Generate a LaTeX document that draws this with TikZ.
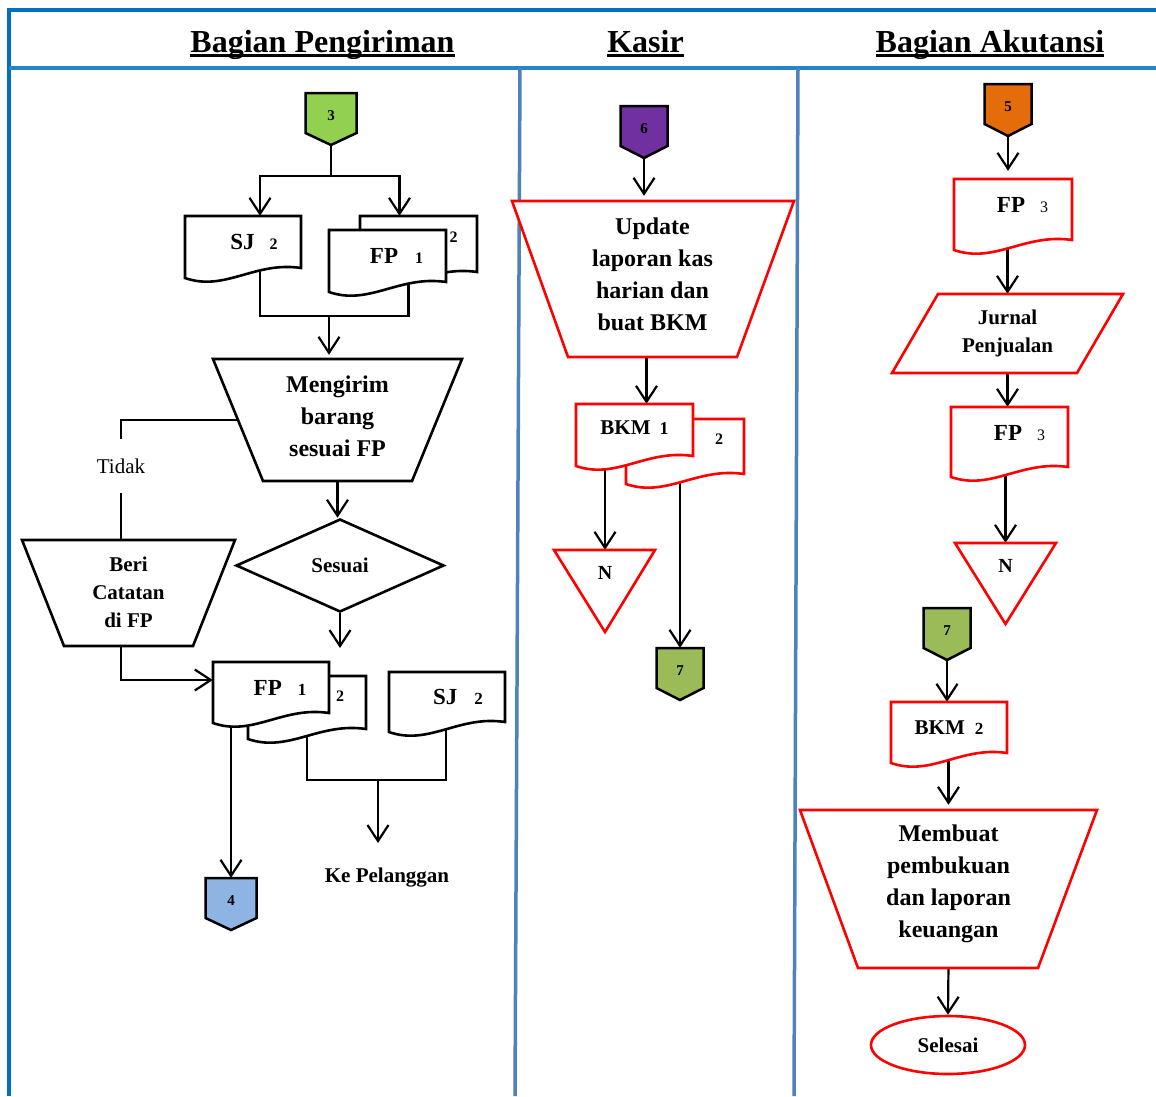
\documentclass[tikz,border=0pt]{standalone}
\usepackage{fontspec}
\setmainfont{Liberation Serif}
\usetikzlibrary{positioning, shapes.geometric, arrows.meta, backgrounds}

\definecolor{bingkai}{RGB}{0,112,192}
\definecolor{lajur}{RGB}{79,129,189}
\definecolor{hijau}{RGB}{146,208,80}
\definecolor{ungu}{RGB}{112,48,160}
\definecolor{zaitun}{RGB}{155,187,89}
\definecolor{oranye}{RGB}{228,108,10}
\definecolor{birumuda}{RGB}{141,180,226}

\newcommand{\fs}[2]{\fontsize{#1}{#2}\selectfont}
\newcommand{\nomor}[1]{{\fs{16}{16}#1}}

% dokumen: [gaya]{nama}{kiri}{atas}{lebar}{tinggi kiri}{opsi label}{teks}
\newcommand{\dokumen}[8][hitam]{%
  \draw[#1] (#3,#4) -- ({#3+#5},#4) -- ({#3+#5},{#4+#6-10})
    .. controls ({#3+0.6*#5},{#4+#6-17}) and ({#3+0.345*#5},{#4+#6+14}) .. (#3,{#4+#6}) -- cycle;
  \node[minimum width=#5, minimum height=#6-10, inner sep=0pt,
        label={[dokteks, #7]center:#8}] (#2) at ({#3+#5/2},{#4+(#6-10)/2}) {};
}

% penghubung antar halaman: {nama}{tengah x}{atas}{lebar}{warna}{nomor}
\newcommand{\penghubung}[6]{%
  \draw[line width=2.5pt, fill=#5] ({#2-#4/2},#3) -- ({#2+#4/2},#3) -- ({#2+#4/2},{#3+40})
    -- (#2,{#3+52}) -- ({#2-#4/2},{#3+40}) -- cycle;
  \node[minimum width=#4, minimum height=52, inner sep=0pt, font=\bfseries\fs{15}{15}] (#1) at (#2,{#3+26}) {\raisebox{6pt}{#6}};
}

\begin{document}
\begin{tikzpicture}[x=1pt, y=-1pt,
  garis/.style={line width=2.2pt},
  panah/.style={line width=2.2pt, -{Straight Barb[length=16pt, width=21pt]}},
  hitam/.style={draw=black, line width=2.6pt, fill=white},
  merah/.style={draw=red, line width=2.6pt, fill=white},
  proses/.style={inner sep=0pt, align=center, font=\bfseries\fs{24}{32}},
  proseskecil/.style={inner sep=0pt, align=center, font=\bfseries\fs{21}{28}},
  dokteks/.style={inner sep=0pt, font=\bfseries\fs{23}{23}},
  judul/.style={inner sep=0pt, anchor=base, font=\bfseries\fs{32}{38}}]

\useasboundingbox (0,0) rectangle (1156,1096);

% judul lajur, bergaris bawah
\node[judul] (jkirim) at (322.5,52) {Bagian Pengiriman};
\node[judul] (jkasir) at (645.5,52) {Kasir};
\node[judul] (jakun) at (990,52) {Bagian Akutansi};
\foreach \j in {jkirim, jkasir, jakun}
  \draw[line width=3pt] ([yshift=-3.5]\j.base west) -- ([yshift=-3.5]\j.base east);

% ---- Bagian Pengiriman
\penghubung{c3}{331}{93}{51}{hijau}{3}
\dokumen{sj1}{185}{216}{116}{62}{xshift=11pt}{SJ\hspace{15pt}\nomor{2}}
\dokumen{fp1b}{360}{216}{117}{66}{xshift=35pt, yshift=7pt}{\nomor{2}}
\dokumen{fp1}{329}{230}{117}{62}{xshift=9pt}{FP\hspace{17pt}\nomor{1}}

\draw[hitam] (213,359) -- (462,359) -- (412,481) -- (263,481) -- cycle;
\node[proses, minimum width=199, minimum height=122] (kirim) at (337.5,416) {Mengirim\\barang\\sesuai FP};

\node[diamond, hitam, inner sep=0pt, minimum width=208, minimum height=93, font=\bfseries\fs{21}{21}] (sesuai) at (340,565.5) {Sesuai};

\node[inner sep=0pt, minimum height=54, font=\fs{21}{21}] (tidak) at (121,466) {Tidak};

\draw[hitam] (22,540) -- (235,540) -- (193,646) -- (64,646) -- cycle;
\node[proseskecil, minimum width=171, minimum height=106] (beri) at (128.5,592) {Beri\\Catatan\\di FP};

\dokumen{fp2b}{248}{676}{118}{63}{xshift=33pt, yshift=6pt}{\nomor{2}}
\dokumen{fp2}{213}{662}{116}{61}{xshift=9pt}{FP\hspace{16pt}{\fs{17}{17}1}}
\dokumen{sj2}{389}{672}{116}{60}{xshift=11pt}{SJ\hspace{17pt}{\fs{17}{17}2}}

\node[inner sep=0pt, anchor=base, font=\bfseries\fs{21}{21}] (pelanggan) at (387,882) {Ke Pelanggan};
\penghubung{c4}{231}{878}{51}{birumuda}{4}

% ---- Kasir
\penghubung{c6}{644}{106}{47}{ungu}{6}
\draw[merah] (512,201) -- (794,201) -- (737,357) -- (568,357) -- cycle;
\node[proses, minimum width=225, minimum height=156] (update) at (652.5,274) {Update\\laporan kas\\harian dan\\buat BKM};
\dokumen[merah]{bkmb}{626}{419}{118}{65}{xshift=34pt, yshift=7pt}{\nomor{2}}
\dokumen[merah]{bkm}{576}{404}{117}{62}{yshift=2pt}{\fs{21}{21}BKM\hspace{9pt}{\fs{18}{18}1}}
\draw[merah] (554,550) -- (655,550) -- (605,632) -- cycle;
\node[inner sep=0pt, minimum height=46, font=\bfseries\fs{20}{20}] (n1) at (605,573) {N};
\penghubung{c7a}{680}{648}{47}{zaitun}{7}

% ---- Bagian Akutansi
\penghubung{c5}{1008}{84}{47}{oranye}{5}
\dokumen[merah]{fp3}{954}{179}{118}{71}{xshift=9.5pt, yshift=4pt}{FP\hspace{15pt}{\mdseries\fs{16}{16}3}}
\draw[merah] (938,294) -- (1123,294) -- (1077,373) -- (892,373) -- cycle;
\node[proseskecil, minimum width=185, minimum height=79] (jurnal) at (1007.5,333.5) {Jurnal\\Penjualan};
\dokumen[merah]{fp4}{951}{407}{117}{70}{xshift=10pt, yshift=4pt}{FP\hspace{15pt}{\mdseries\fs{16}{16}3}}
\draw[merah] (955,543) -- (1056,543) -- (1005.5,624) -- cycle;
\node[inner sep=0pt, minimum height=46, font=\bfseries\fs{20}{20}] (n2) at (1005.5,566) {N};
\penghubung{c7b}{947}{608}{47}{zaitun}{7}
\dokumen[merah]{bkm2}{891}{702}{116}{61}{}{\fs{21}{21}BKM\hspace{10pt}{\fs{17}{17}2}}
\draw[merah] (800,810) -- (1097,810) -- (1038,968) -- (858,968) -- cycle;
\node[proses, minimum width=238, minimum height=158] (buat) at (948.5,884) {Membuat\\pembukuan\\dan laporan\\keuangan};
\node[ellipse, merah, inner sep=0pt, minimum width=154, minimum height=58, font=\bfseries\fs{21}{21}] (selesai) at (948,1045) {Selesai};

% garis dan panah, di belakang bentuk
\begin{scope}[on background layer]
  % bingkai lajur
  \draw[line width=4pt, bingkai] (9,1096) -- (9,10) -- (1156,10);
  \draw[line width=3.5pt, bingkai!85!white] (9,68) -- (1156,68);
  \draw[line width=3.5pt, lajur] (520,68) -- (515,1096);
  \draw[line width=3.5pt, lajur] (798,68) -- (794,1096);

  % Bagian Pengiriman
  \draw[panah] (c3.south) -- (c3.south |- 0,176) -| ([xshift=17]sj1.north);
  \draw[panah] (c3.south |- 0,176) -| ([xshift=-19]fp1b.north);
  \draw[garis] ([xshift=17]sj1.south) -- ++(0,48) -| ([xshift=21]fp1.south);
  \coordinate (gabung1) at (329,316);
  \draw[panah] (gabung1) -- (gabung1 |- kirim.north);
  \draw[panah] (kirim.south) -- (kirim.south |- sesuai.north);
  \coordinate (ujung1) at (341,648);
  \draw[panah] (sesuai.south) -- (sesuai.south |- ujung1);
  \draw[garis] ([yshift=-4]kirim.west) -| (tidak.north);
  \draw[garis] (tidak.south) -- (tidak.south |- beri.north);
  \draw[panah] (tidak.south |- beri.south) |- ([yshift=7.5]fp2.west);
  \draw[panah] (fp2.south -| c4.north) -- (c4.north);
  \draw[garis] (fp2b.south) -- ++(0,51) -| ([xshift=-1]sj2.south);
  \coordinate (gabung2) at (378,780);
  \coordinate (ujung2) at (378,843);
  \draw[panah] (gabung2) -- (ujung2);

  % Kasir
  \draw[panah] (c6.south) -- (c6.south |- update.north);
  \draw[panah] ([xshift=-6]update.south) -- ([xshift=-6]update.south |- bkm.north);
  \draw[panah] (bkm.south -| n1.north) -- (n1.north);
  \draw[panah] (bkmb.south -| c7a.north) -- (c7a.north);

  % Bagian Akutansi
  \draw[panah, shorten >=8pt] (c5.south) -- (c5.south |- fp3.north);
  \draw[panah] (fp3.south -| jurnal.north) -- (jurnal.north);
  \draw[panah] (jurnal.south) -- (jurnal.south |- fp4.north);
  \draw[panah] (fp4.south -| n2.north) -- (n2.north);
  \draw[panah] (c7b.south) -- (c7b.south |- bkm2.north);
  \draw[panah] (bkm2.south -| buat.north) -- (buat.north);
  \draw[panah] (buat.south) -- (selesai.north);
\end{scope}
\end{tikzpicture}
\end{document}
